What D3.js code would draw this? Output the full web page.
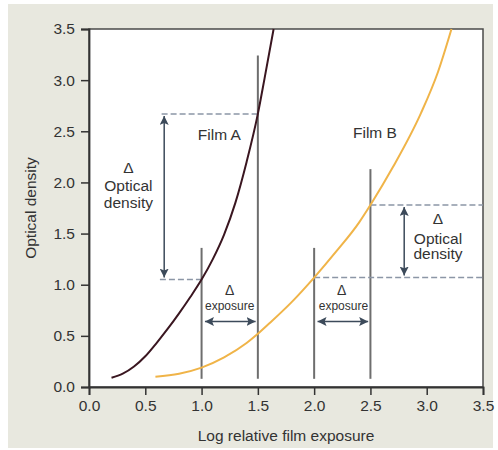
<!DOCTYPE html>
<style media="screen">
    body{ margin:0; background:#fff; }
    text{ font-family:"Liberation Sans", Arial, sans-serif; fill:#333; }
</style>
<div class="graph"></div>
<script src="https://d3js.org/d3.v7.min.js"></script>
<script>

var xTicks = [0.0, 0.5, 1.0, 1.5, 2.0, 2.5, 3.0, 3.5];
var yTicks = [0.0, 0.5, 1.0, 1.5, 2.0, 2.5, 3.0, 3.5];

var filmAExposure = [0.2, 0.3, 0.4, 0.5, 0.6, 0.7, 0.8, 0.9, 1.0, 1.1, 1.2, 1.3, 1.4, 1.5, 1.56, 1.64];
var filmADensity  = [0.09, 0.13, 0.2, 0.3, 0.43, 0.57, 0.72, 0.88, 1.05, 1.25, 1.49, 1.8, 2.2, 2.67, 3.02, 3.5];

var filmBExposure = [0.59, 0.8, 1.0, 1.2, 1.4, 1.5, 1.6, 1.8, 2.0, 2.2, 2.4, 2.5, 2.7, 2.95, 3.1, 3.22];
var filmBDensity  = [0.1, 0.13, 0.19, 0.29, 0.43, 0.52, 0.62, 0.83, 1.07, 1.33, 1.61, 1.78, 2.15, 2.68, 3.08, 3.5];

// vertical exposure markers
var markerExposure = [1.0, 1.5, 2.0, 2.5];
var markerTop      = [1.36, 3.24, 1.36, 2.13];

// dashed density levels
var levelDensity = [2.67, 1.05, 1.78, 1.07];
var levelFrom    = [0.645, 0.63, 2.5, 2.0];
var levelTo      = [1.5, 1.0, 3.5, 3.5];

function makeGraph(container){
    var svg = d3.select(container).append("svg").attr("width", 498).attr("height", 450),
        margin = {top: 29, right: 15, bottom: 63, left: 89},
        width = +svg.attr("width") - margin.left - margin.right,
        height = +svg.attr("height") - margin.top - margin.bottom;

    svg.append("rect")
        .attr("x", 8).attr("y", 4)
        .attr("width", 485).attr("height", 444)
        .attr("fill", "#e8e8df");

    var defs = svg.append("defs");
    defs.append("marker")
        .attr("id", "head")
        .attr("viewBox", "0 -5 10 10")
        .attr("refX", 10).attr("refY", 0)
        .attr("markerUnits", "userSpaceOnUse")
        .attr("markerWidth", 9).attr("markerHeight", 9)
        .attr("orient", "auto-start-reverse")
      .append("path")
        .attr("d", "M0,-5L10,0L0,5L2,0Z")
        .attr("fill", "#3c4a5a");

    var g = svg.append("g").attr("transform", "translate(" + margin.left + "," + margin.top + ")");

    var x = d3.scaleLinear().domain([0, 3.5]).range([0, width]);
    var y = d3.scaleLinear().domain([0, 3.5]).range([height, 0]);

    g.append("rect")
        .attr("width", width).attr("height", height)
        .attr("fill", "#fff")
        .attr("stroke", "#4a4a4a")
        .attr("stroke-width", 1.5);

    drawGraph(g, x, y, width, height);
}

function drawGraph(g, x, y, width, height) {

  var xAxis = g.append("g")
      .attr("transform", "translate(0," + height + ")")
      .call(d3.axisBottom(x).tickValues(xTicks).tickSize(8).tickPadding(5).tickFormat(d3.format(".1f")));
  var yAxis = g.append("g")
      .call(d3.axisLeft(y).tickValues(yTicks).tickSize(8).tickPadding(6).tickFormat(d3.format(".1f")));

  [xAxis, yAxis].forEach(function(a){
      a.select(".domain").attr("stroke", "#333").attr("stroke-width", 1.8);
      a.selectAll(".tick line").attr("stroke", "#333").attr("stroke-width", 1.5);
      a.selectAll(".tick text").attr("font-size", 15.5).attr("fill", "#333")
          .attr("font-family", "Liberation Sans, Arial, sans-serif");
  });

  g.append("text")
      .attr("transform", "translate(-58," + (height / 2) + ") rotate(-90)")
      .attr("text-anchor", "middle")
      .attr("dy", "0.35em")
      .attr("font-size", 15.5)
      .text("Optical density");

  g.append("text")
      .attr("x", width / 2)
      .attr("y", height + 49)
      .attr("text-anchor", "middle")
      .attr("dy", "0.35em")
      .attr("font-size", 15.5)
      .text("Log relative film exposure");

  // vertical marker lines
  g.selectAll(".marker")
        .data(markerExposure)
      .enter().append("line")
        .attr("stroke", "#6e6e6e")
        .attr("stroke-width", 2)
        .attr("x1", function(d) { return x(d); })
        .attr("x2", function(d) { return x(d); })
        .attr("y1", y(0.08))
        .attr("y2", function(d, i) { return y(markerTop[i]); });

  // dashed density levels
  g.selectAll(".level")
        .data(levelDensity)
      .enter().append("line")
        .attr("stroke", "#8c96a6")
        .attr("stroke-width", 1.5)
        .attr("stroke-dasharray", "6,3")
        .attr("x1", function(d, i) { return x(levelFrom[i]); })
        .attr("x2", function(d, i) { return x(levelTo[i]); })
        .attr("y1", function(d) { return y(d); })
        .attr("y2", function(d) { return y(d); });

  var lineA = d3.line()
      .x(function(d, i) { return x(filmAExposure[i]); })
      .y(function(d) { return y(d); })
      .curve(d3.curveMonotoneX);
  var lineB = d3.line()
      .x(function(d, i) { return x(filmBExposure[i]); })
      .y(function(d) { return y(d); })
      .curve(d3.curveMonotoneX);

  g.append("path")
      .datum(filmBDensity)
      .attr("fill", "none")
      .attr("stroke", "#f0b448")
      .attr("stroke-width", 2)
      .attr("d", lineB);

  g.append("path")
      .datum(filmADensity)
      .attr("fill", "none")
      .attr("stroke", "#3a1620")
      .attr("stroke-width", 2)
      .attr("d", lineA);

  // delta arrows
  var arrows = [
      [0.668, 2.67, 0.668, 1.05],
      [2.8, 1.78, 2.8, 1.07],
      [1.03, 0.64, 1.48, 0.64],
      [2.03, 0.64, 2.48, 0.64]
  ];
  g.selectAll(".arrow")
        .data(arrows)
      .enter().append("line")
        .attr("stroke", "#3c4a5a")
        .attr("stroke-width", 1.5)
        .attr("marker-start", "url(#head)")
        .attr("marker-end", "url(#head)")
        .attr("x1", function(d) { return x(d[0]); })
        .attr("y1", function(d) { return y(d[1]) + (d[1] != d[3] ? 2 : 0); })
        .attr("x2", function(d) { return x(d[2]); })
        .attr("y2", function(d) { return y(d[3]) - (d[1] != d[3] ? 2 : 0); });

  function label(px, py, str, size){
      g.append("text")
          .attr("x", x(px)).attr("y", y(py))
          .attr("text-anchor", "middle")
          .attr("dy", "0.35em")
          .attr("font-size", size)
          .text(str);
  }

  label(1.158, 2.47, "Film A", 15.5);
  label(2.54, 2.49, "Film B", 15.5);

  label(0.35, 2.15, "\u0394", 15.5);
  label(0.35, 1.965, "Optical", 15.5);
  label(0.35, 1.8, "density", 15.5);

  label(3.1, 1.65, "\u0394", 15.5);
  label(3.1, 1.455, "Optical", 15.5);
  label(3.1, 1.3, "density", 15.5);

  label(1.25, 0.95, "\u0394", 14);
  label(1.25, 0.795, "exposure", 12);
  label(2.245, 0.95, "\u0394", 14);
  label(2.26, 0.795, "exposure", 12);
}

makeGraph(".graph");

</script>
